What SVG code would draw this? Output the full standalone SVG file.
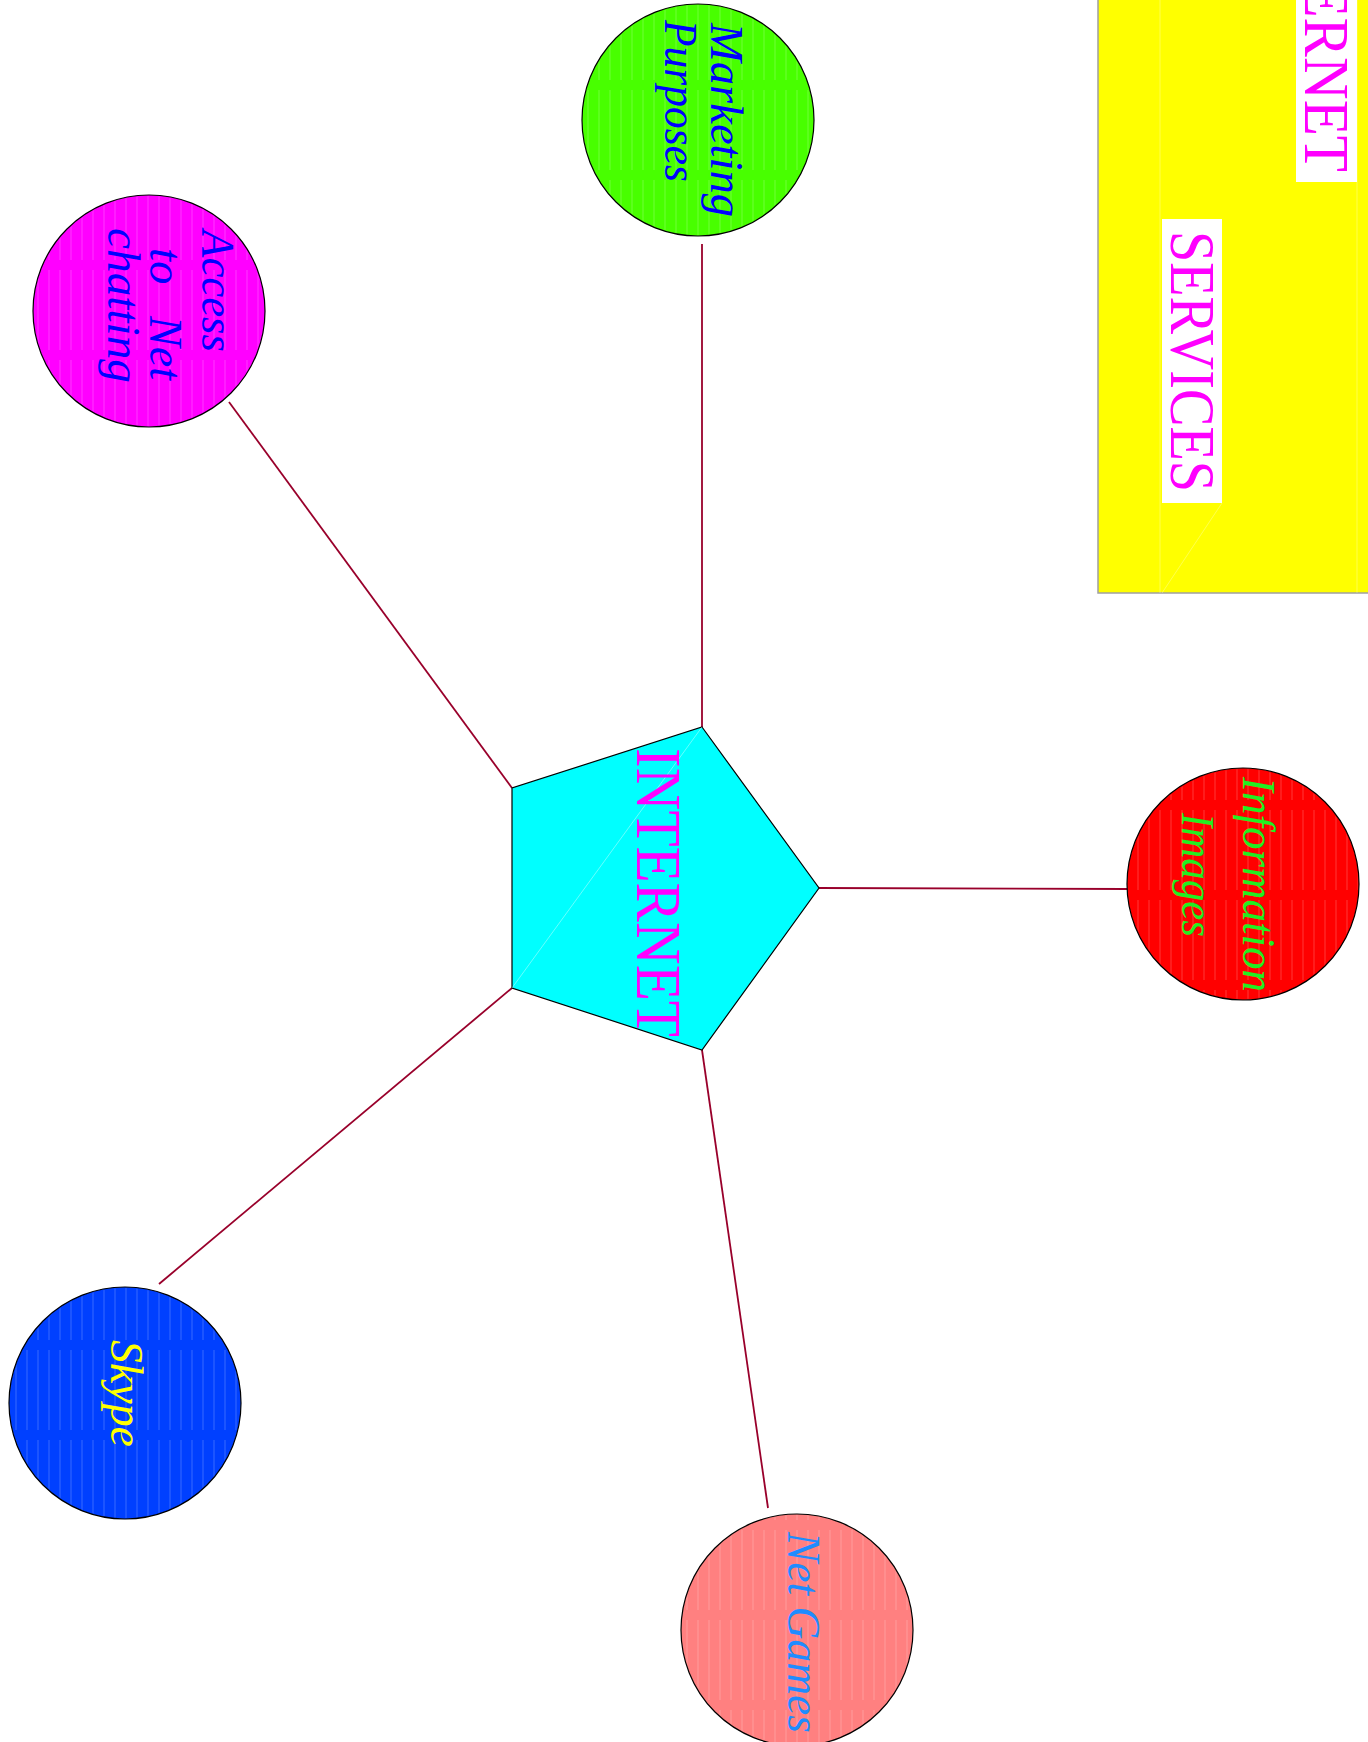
<svg xmlns="http://www.w3.org/2000/svg" width="1368" height="1742" viewBox="0 0 1368 1742">
  <style>
    .node-circle { stroke: #000; stroke-width: 1.2; }
    .stripes { fill: url(#stripes); stroke: none; }
    .conn { stroke: #99002b; stroke-width: 1.8; fill: none; }
    .lbl { font-family: "Liberation Serif", "DejaVu Serif", serif; font-style: italic; font-size: 47px; }
    .title { font-family: "Liberation Serif", "DejaVu Serif", serif; font-size: 63px; fill: #ff00ff; }
  </style>
  <defs>
    <pattern id="stripes" width="11" height="90" patternUnits="userSpaceOnUse">
      <line x1="5" y1="0" x2="5" y2="80" stroke="#ffffff" stroke-opacity="0.22" stroke-width="1"/>
    </pattern>
  </defs>

  <rect width="1368" height="1742" fill="#ffffff"/>

  <g id="title-box">
    <rect x="1098" y="-5" width="280" height="598" fill="#ffff00" stroke="#a0a0a0" stroke-width="1.5"/>
    <line x1="1160" y1="0" x2="1160" y2="593" stroke="#ffffff" stroke-opacity="0.3" stroke-width="1"/>
    <line x1="1222" y1="503" x2="1162" y2="593" stroke="#ffffff" stroke-opacity="0.3" stroke-width="1"/>
    <line x1="1357" y1="0" x2="1357" y2="593" stroke="#ffffff" stroke-opacity="0.3" stroke-width="1"/>
    <rect x="1296" y="-10" width="61" height="192" fill="#ffffff"/>
    <text class="title" transform="translate(1305,-117) rotate(90)" textLength="289" lengthAdjust="spacingAndGlyphs">INTERNET</text>
    <rect x="1162" y="219" width="60" height="284" fill="#ffffff"/>
    <text class="title" transform="translate(1171,231) rotate(90)" textLength="261" lengthAdjust="spacingAndGlyphs">SERVICES</text>
  </g>

  <g id="connectors">
    <line class="conn" x1="702" y1="727" x2="702" y2="244"/>
    <line class="conn" x1="512" y1="788" x2="229" y2="402"/>
    <line class="conn" x1="819" y1="888" x2="1127" y2="889"/>
    <line class="conn" x1="512" y1="988" x2="159" y2="1284"/>
    <line class="conn" x1="702" y1="1050" x2="768" y2="1508"/>
  </g>

  <g id="internet">
    <polygon points="702,727 819,888 702,1050 512,988 512,788" fill="#00ffff" stroke="#000" stroke-width="1.2"/>
    <line x1="702" y1="727" x2="512" y2="988" stroke="#ffffff" stroke-opacity="0.4" stroke-width="1"/>
    <text class="title" transform="translate(637,748) rotate(90)" textLength="289" lengthAdjust="spacingAndGlyphs">INTERNET</text>
  </g>

  <g id="marketing">
    <circle class="node-circle" cx="698" cy="120" r="116" fill="#48ff00"/>
    <circle class="stripes" cx="698" cy="120" r="115"/>
    <text class="lbl" fill="#0000ff" transform="translate(711,23) rotate(90)" textLength="194" lengthAdjust="spacingAndGlyphs">Marketing</text>
    <text class="lbl" fill="#0000ff" transform="translate(665,20) rotate(90)" textLength="162" lengthAdjust="spacingAndGlyphs">Purposes</text>
  </g>

  <g id="access">
    <circle class="node-circle" cx="149" cy="311" r="116" fill="#ff00ff"/>
    <circle class="stripes" cx="149" cy="311" r="115"/>
    <text class="lbl" fill="#0000ff" transform="translate(202,230) rotate(90)" textLength="122" lengthAdjust="spacingAndGlyphs">Access</text>
    <text class="lbl" fill="#0000ff" transform="translate(150,248) rotate(90)">to</text>
    <text class="lbl" fill="#0000ff" transform="translate(150,316) rotate(90)" textLength="64" lengthAdjust="spacingAndGlyphs">Net</text>
    <text class="lbl" fill="#0000ff" transform="translate(108,228) rotate(90)" textLength="155" lengthAdjust="spacingAndGlyphs">chatting</text>
  </g>

  <g id="information">
    <circle class="node-circle" cx="1243" cy="884" r="116" fill="#ff0000"/>
    <circle class="stripes" cx="1243" cy="884" r="115"/>
    <text class="lbl" fill="#22ee22" transform="translate(1243,777) rotate(90)" textLength="215" lengthAdjust="spacingAndGlyphs">Information</text>
    <text class="lbl" fill="#22ee22" transform="translate(1182,813) rotate(90)" textLength="124" lengthAdjust="spacingAndGlyphs">Images</text>
  </g>

  <g id="skype">
    <circle class="node-circle" cx="125" cy="1403" r="116" fill="#0040ff"/>
    <circle class="stripes" cx="125" cy="1403" r="115"/>
    <text class="lbl" fill="#ffff00" transform="translate(111,1340) rotate(90)" textLength="107" lengthAdjust="spacingAndGlyphs">Skype</text>
  </g>

  <g id="net-games">
    <circle class="node-circle" cx="797" cy="1630" r="116" fill="#ff8080"/>
    <circle class="stripes" cx="797" cy="1630" r="115"/>
    <text class="lbl" fill="#1e8cff" transform="translate(788,1532) rotate(90)" textLength="201" lengthAdjust="spacingAndGlyphs">Net Games</text>
  </g>
</svg>
